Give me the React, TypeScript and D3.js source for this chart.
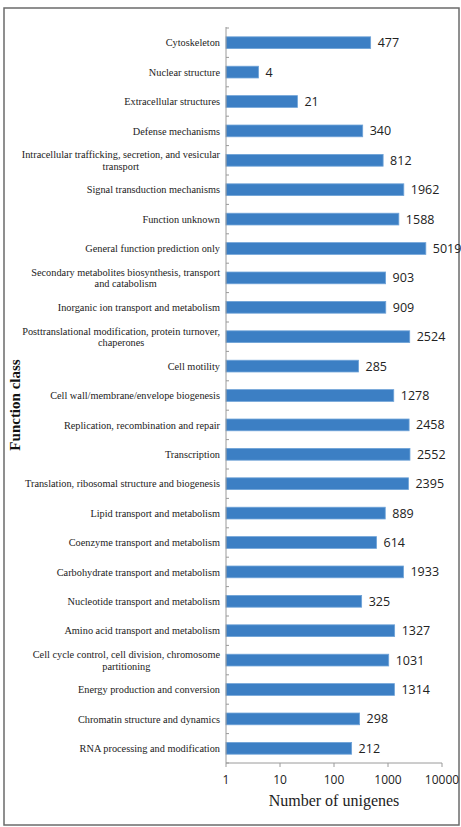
import React, { useEffect, useRef } from 'react';
import * as d3 from 'd3';

// categories top to bottom, "\n" marks the line break used in the figure
const categories = [
  'Cytoskeleton',
  'Nuclear structure',
  'Extracellular structures',
  'Defense mechanisms',
  'Intracellular trafficking, secretion, and vesicular\ntransport',
  'Signal transduction mechanisms',
  'Function unknown',
  'General function prediction only',
  'Secondary metabolites biosynthesis, transport\nand catabolism',
  'Inorganic ion transport and metabolism',
  'Posttranslational modification, protein turnover,\nchaperones',
  'Cell motility',
  'Cell wall/membrane/envelope biogenesis',
  'Replication, recombination and repair',
  'Transcription',
  'Translation, ribosomal structure and biogenesis',
  'Lipid transport and metabolism',
  'Coenzyme transport and metabolism',
  'Carbohydrate transport and metabolism',
  'Nucleotide transport and metabolism',
  'Amino acid transport and metabolism',
  'Cell cycle control, cell division, chromosome\npartitioning',
  'Energy production and conversion',
  'Chromatin structure and dynamics',
  'RNA processing and modification',
];

const counts = [
  477, 4, 21, 340, 812, 1962, 1588, 5019, 903, 909, 2524, 285, 1278,
  2458, 2552, 2395, 889, 614, 1933, 325, 1327, 1031, 1314, 298, 212,
];

const xTicks = [1, 10, 100, 1000, 10000];

const App = () => {
  const svgRef = useRef<SVGSVGElement>(null);

  useEffect(() => {
    const svg = d3.select(svgRef.current);
    svg.selectAll('*').remove();

    const width = 461;
    const height = 827;
    const left = 226;
    const right = 442;
    const top = 28;
    const bottom = 763;

    const x = d3.scaleLog().domain([1, 10000]).range([left, right]);
    const y = d3.scaleBand().domain(categories).range([top, bottom]).paddingInner(0.6).paddingOuter(0.3);

    svg.attr('width', width).attr('height', height);

    // frame
    svg.append('rect')
      .attr('x', 4).attr('y', 8)
      .attr('width', 455).attr('height', 817)
      .attr('fill', 'white')
      .attr('stroke', '#6b6b6b')
      .attr('stroke-width', 1.5);

    const rows = categories.map((c, i) => ({ name: c, value: counts[i] }));

    svg.selectAll('.bar')
      .data(rows)
      .enter()
      .append('rect')
      .attr('class', 'bar')
      .attr('x', x(1))
      .attr('y', d => y(d.name)!)
      .attr('width', d => x(d.value) - x(1))
      .attr('height', y.bandwidth())
      .attr('fill', '#3c7fc4')
      .attr('stroke', '#6fa3d8')
      .attr('stroke-width', 0.8);

    // value labels
    svg.selectAll('.val')
      .data(rows)
      .enter()
      .append('text')
      .attr('x', d => x(d.value) + 7)
      .attr('y', d => y(d.name)! + y.bandwidth() / 2)
      .attr('dy', '0.36em')
      .attr('font-family', '"Open Sans", sans-serif')
      .attr('font-size', 12.5)
      .attr('fill', '#222')
      .text(d => d.value);

    // y axis line and boundary ticks
    const axisColor = '#9a9a9a';
    svg.append('line')
      .attr('x1', left).attr('x2', left)
      .attr('y1', top - 1).attr('y2', bottom)
      .attr('stroke', axisColor);
    const step = y.step();
    const firstEdge = y(categories[0])! - (step - y.bandwidth()) / 2;
    svg.selectAll('.ytick')
      .data(d3.range(categories.length + 1))
      .enter()
      .append('line')
      .attr('x1', left).attr('x2', left + 3)
      .attr('y1', i => firstEdge + i * step)
      .attr('y2', i => firstEdge + i * step)
      .attr('stroke', axisColor);

    // category labels
    const labels = svg.append('g')
      .attr('font-family', '"Liberation Serif", "Times New Roman", serif')
      .attr('font-size', 10.3)
      .attr('fill', '#222');
    rows.forEach(d => {
      const lines = d.name.split('\n');
      const cy = y(d.name)! + y.bandwidth() / 2;
      if (lines.length === 1) {
        labels.append('text')
          .attr('x', 220).attr('y', cy).attr('dy', '0.35em')
          .attr('text-anchor', 'end')
          .text(lines[0]);
      } else {
        const t = labels.append('text').attr('text-anchor', 'middle');
        const first = t.append('tspan').attr('y', cy - 5.8).attr('dy', '0.35em').text(lines[0]);
        const w = (first.node() as SVGTextContentElement).getComputedTextLength();
        const mid = 220 - w / 2;
        first.attr('x', mid);
        t.append('tspan').attr('x', mid).attr('y', cy + 5.8).attr('dy', '0.35em').text(lines[1]);
      }
    });

    // x axis
    svg.append('line')
      .attr('x1', left).attr('x2', right)
      .attr('y1', bottom).attr('y2', bottom)
      .attr('stroke', axisColor);
    svg.selectAll('.xtick')
      .data(xTicks)
      .enter()
      .append('line')
      .attr('x1', d => x(d)).attr('x2', d => x(d))
      .attr('y1', bottom).attr('y2', bottom + 4)
      .attr('stroke', axisColor);
    svg.selectAll('.xlab')
      .data(xTicks)
      .enter()
      .append('text')
      .attr('x', d => x(d))
      .attr('y', bottom + 21)
      .attr('text-anchor', 'middle')
      .attr('font-family', '"Open Sans", sans-serif')
      .attr('font-size', 12)
      .attr('fill', '#222')
      .text(d => d);

    svg.append('text')
      .attr('x', x(100))
      .attr('y', 806)
      .attr('text-anchor', 'middle')
      .attr('font-family', '"Liberation Serif", serif')
      .attr('font-size', 16)
      .attr('fill', '#222')
      .text('Number of unigenes');

    svg.append('text')
      .attr('transform', 'translate(20,405) rotate(-90)')
      .attr('text-anchor', 'middle')
      .attr('font-family', '"Liberation Serif", serif')
      .attr('font-weight', 'bold')
      .attr('font-size', 15)
      .attr('fill', '#111')
      .text('Function class');
  }, []);

  return (
    <div style={{ position: 'absolute', left: 0, top: 0 }}>
      <svg ref={svgRef}></svg>
    </div>
  );
};

export default App;
